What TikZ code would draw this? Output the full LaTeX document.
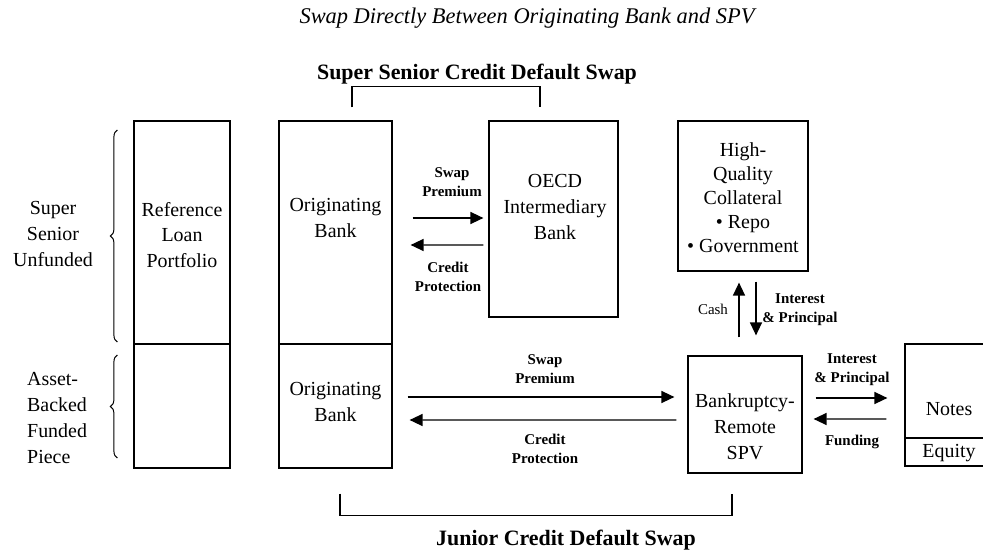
\documentclass[tikz,border=0pt]{standalone}
\usepackage{fontspec}
\setmainfont{Liberation Serif}
\usetikzlibrary{arrows.meta,decorations.pathreplacing}

\begin{document}
\begin{tikzpicture}[x=1bp, y=-1bp,
    blk/.style={draw, line width=1.2bp, inner sep=0pt},
    txt/.style={align=center, inner sep=0pt, font=\fontsize{20}{26}\selectfont},
    tag/.style={align=center, inner sep=0pt, font=\bfseries\fontsize{15}{19}\selectfont},
    head/.style={inner sep=0pt, font=\bfseries\fontsize{22}{26}\selectfont},
    arr/.style={line width=1.4bp, -{Triangle[length=13bp,width=12bp]}},
    brc/.style={decorate, decoration={brace, amplitude=7bp}, line width=1bp}]
  \clip (0,0) rectangle (983,552);

  %% headings
  \node[inner sep=0pt, font=\itshape\fontsize{22.5}{26}\selectfont] (title) at (527,18)
       {Swap Directly Between Originating Bank and SPV};
  \node[head] (sscds) at (477,74) {Super Senior Credit Default Swap};
  \node[head] (jcds) at (566,540) {Junior Credit Default Swap};

  %% boxes
  \node[blk, minimum width=96bp, minimum height=223bp] (refTop) at (182,232.5) {};
  \node[blk, minimum width=96bp, minimum height=124bp] (refBot) at (182,406) {};
  \node[blk, minimum width=113bp, minimum height=223bp] (origTop) at (335.5,232.5) {};
  \node[blk, minimum width=113bp, minimum height=124bp] (origBot) at (335.5,406) {};
  \node[blk, minimum width=129bp, minimum height=196bp] (oecd) at (553.5,219) {};
  \node[blk, minimum width=130bp, minimum height=150bp] (hqc) at (743,196) {};
  \node[blk, minimum width=114bp, minimum height=117bp] (spv) at (745,414.5) {};
  \node[blk, minimum width=88bp, minimum height=94bp] (notes) at (949,391) {};
  \node[blk, minimum width=88bp, minimum height=28bp] (equity) at (949,452) {};

  %% box texts
  \node[txt] (refTxt) at (182,235) {Reference\\Loan\\Portfolio};
  \node[txt] (origTxtA) at (335.5,218) {Originating\\Bank};
  \node[txt] (origTxtB) at (335.5,402) {Originating\\Bank};
  \node[txt] (oecdTxt) at (555,207) {OECD\\Intermediary\\Bank};
  \node[txt, font=\fontsize{20}{24}\selectfont] (hqcTxt) at (743,198)
       {High-\\Quality\\Collateral\\\textbullet\ Repo\\\textbullet\ Government};
  \node[txt] (spvTxt) at (745,427) {Bankruptcy-\\Remote\\SPV};
  \node[txt] (notesTxt) at (949,409) {Notes};
  \node[txt] (equityTxt) at (949,453) {Equity};

  %% tranche braces
  \draw[brc] ([shift={(-16,109.5)}]refTop.west) -- ([shift={(-16,-102.5)}]refTop.west);
  \draw[brc] ([shift={(-16,52)}]refBot.west) -- ([shift={(-16,-51)}]refBot.west);
  \node[txt] (ssu) at (53,234) {Super\\Senior\\Unfunded};
  \node[txt, align=left, anchor=west] (abf) at (27,418) {Asset-\\Backed\\Funded\\Piece};

  %% swap brackets
  \draw[line width=1.2bp] ([shift={(16.5,-13)}]origTop.north) |- ([shift={(-13.5,-34)}]oecd.north)
       -- ([shift={(-13.5,-13)}]oecd.north);
  \draw[line width=1.2bp] ([shift={(4.5,25)}]origBot.south) |- ([shift={(-13,42)}]spv.south)
       -- ([shift={(-13,20)}]spv.south);

  %% flows
  \draw[arr] ([shift={(20,-14.5)}]origTop.east) -- ([shift={(-5,-1)}]oecd.west);
  \draw[arr] ([shift={(-5,26)}]oecd.west) -- ([shift={(18,12.5)}]origTop.east);
  \draw[arr] ([shift={(15,-9)}]origBot.east) -- ([shift={(-13,-17.5)}]spv.west);
  \draw[arr] ([shift={(-11,5.5)}]spv.west) -- ([shift={(17,14)}]origBot.east);
  \draw[arr] ([shift={(-6,-18)}]spv.north) -- ([shift={(-4,11)}]hqc.south);
  \draw[arr] ([shift={(13,10)}]hqc.south) -- ([shift={(11,-20)}]spv.north);
  \draw[arr] ([shift={(13,-16.5)}]spv.east) -- ([shift={(-17,7)}]notes.west);
  \draw[arr] ([shift={(-18,28)}]notes.west) -- ([shift={(11,4.5)}]spv.east);

  %% flow labels
  \node[tag] (swapA) at (452,182) {Swap\\Premium};
  \node[tag] (credA) at (448,277) {Credit\\Protection};
  \node[tag] (swapB) at (545,369) {Swap\\Premium};
  \node[tag] (credB) at (545,449) {Credit\\Protection};
  \node[inner sep=0pt, font=\fontsize{15}{19}\selectfont] (cash) at (713,309) {Cash};
  \node[tag] (intA) at (800,310) {Interest\\\& Principal};
  \node[tag] (intB) at (852,370) {Interest\\\& Principal};
  \node[tag] (fund) at (852,442) {Funding};
\end{tikzpicture}
\end{document}
